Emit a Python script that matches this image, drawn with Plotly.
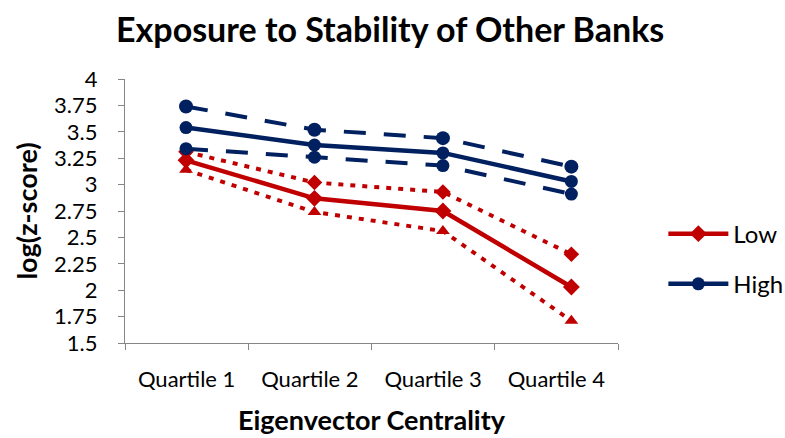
import plotly.graph_objects as go

quartiles = ["Quartile 1", "Quartile 2", "Quartile 3", "Quartile 4"]

# log(z-score) by eigenvector-centrality quartile
low_mean = [3.23, 2.87, 2.75, 2.03]
low_upper = [3.31, 3.02, 2.93, 2.34]
low_lower = [3.14, 2.74, 2.56, 1.71]

high_mean = [3.54, 3.375, 3.30, 3.03]
high_upper = [3.74, 3.52, 3.44, 3.17]
high_lower = [3.34, 3.26, 3.18, 2.91]

y_ticks = [1.5, 1.75, 2, 2.25, 2.5, 2.75, 3, 3.25, 3.5, 3.75, 4]
y_tick_text = ["1.5", "1.75", "2", "2.25", "2.5", "2.75", "3", "3.25",
               "3.5", "3.75", "4"]

RED = "#C00000"
NAVY = "#002060"
AXIS_GREY = "#868686"
FONT = "Lato"

fig = go.Figure()

# invisible carrier trace so the labelled category axis exists
fig.add_trace(go.Scatter(x=quartiles, y=[None] * 4, xaxis="x", yaxis="y",
                         showlegend=False, hoverinfo="skip", mode="lines"))

def band(y, color, dash, symbol, size):
    fig.add_trace(go.Scatter(
        x=quartiles, y=y, xaxis="x2", yaxis="y", mode="lines+markers",
        line=dict(color=color, width=4, dash=dash),
        marker=dict(symbol=symbol, size=size, color=color),
        showlegend=False, hoverinfo="skip"))

band(low_upper, RED, "5px,7px", "diamond", 12)
band(low_lower, RED, "5px,7px", "triangle-up", 12)
fig.add_trace(go.Scatter(
    x=quartiles, y=low_mean, xaxis="x2", yaxis="y", mode="lines+markers",
    name="Low", legendgroup="low",
    line=dict(color=RED, width=4.5),
    marker=dict(symbol="diamond", size=13, color=RED)))

band(high_upper, NAVY, "22px,18px", "circle", 14)
band(high_lower, NAVY, "22px,18px", "circle", 13)
fig.add_trace(go.Scatter(
    x=quartiles, y=high_mean, xaxis="x2", yaxis="y", mode="lines+markers",
    name="High", legendgroup="high",
    line=dict(color=NAVY, width=4.5),
    marker=dict(symbol="circle", size=13, color=NAVY)))

fig.update_layout(
    width=785, height=438,
    margin=dict(l=124.5, r=167.3, t=79, b=95, autoexpand=False),
    paper_bgcolor="white", plot_bgcolor="white",
    font=dict(family=FONT, color="black", size=22),
    title=dict(text="<b>Exposure to Stability of Other Banks</b>",
               x=0.497, xanchor="center", y=0.932, yanchor="middle",
               font=dict(size=34, family=FONT)),
    xaxis=dict(type="category", categoryorder="array",
               categoryarray=quartiles, range=[-0.5, 3.5],
               showline=True, linecolor=AXIS_GREY, linewidth=1.3,
               ticks="outside", tickson="boundaries", ticklen=6,
               tickcolor=AXIS_GREY, showgrid=False, zeroline=False,
               tickfont=dict(size=22), ticklabelstandoff=16,
               title=dict(text="<b>Eigenvector Centrality</b>",
                          font=dict(size=27), standoff=20)),
    xaxis2=dict(type="category", categoryorder="array",
                categoryarray=quartiles, overlaying="x", anchor="y",
                range=[-0.475, 3.363], autorange=False,
                showticklabels=False, showline=False, ticks="",
                showgrid=False, zeroline=False),
    yaxis=dict(range=[1.5, 4], tickvals=y_ticks, ticktext=y_tick_text,
               showline=True, linecolor=AXIS_GREY, linewidth=1.3,
               ticks="outside", ticklen=6, tickcolor=AXIS_GREY,
               showgrid=False, zeroline=False, tickfont=dict(size=22),
               ticklabelstandoff=16,
               title=dict(text="<b>log(z-score)</b>", font=dict(size=27),
                          standoff=8)),
    legend=dict(x=1.092, xanchor="left", y=0.318, yanchor="middle",
                font=dict(size=24), tracegroupgap=16,
                itemwidth=60, bgcolor="rgba(0,0,0,0)"),
    showlegend=True,
)

fig.write_html("out.html")
